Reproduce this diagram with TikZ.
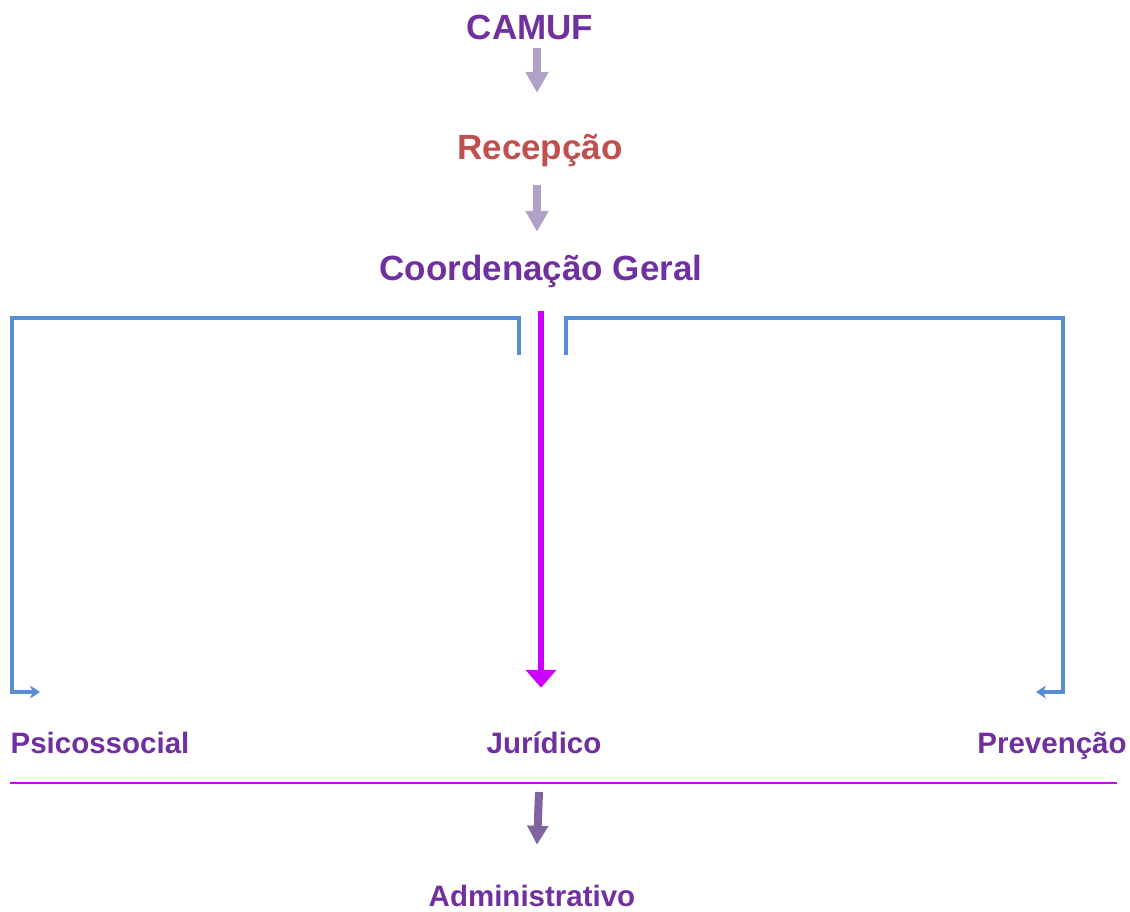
\documentclass[tikz,border=0pt]{standalone}
\usepackage{fontspec}
\setmainfont{Liberation Sans}
\usetikzlibrary{
  positioning,
  arrows.meta
}
\definecolor{camufpurple}{HTML}{7030A0}
\definecolor{recred}{HTML}{C0504D}
\definecolor{liftlilac}{HTML}{B2A1C7}
\definecolor{branchblue}{HTML}{558ED5}
\definecolor{mainmagenta}{HTML}{CC00FF}
\definecolor{adminviolet}{HTML}{8064A2}
\tikzset{
  x=1pt, y=-1pt,
  unit/.style={font=\bfseries\fontsize{35}{40}\selectfont, text=camufpurple, inner sep=0pt, anchor=base, text height=26pt, text depth=8pt},
  sector/.style={font=\bfseries\fontsize{29.5}{34}\selectfont, text=camufpurple, inner sep=0pt, anchor=base, text height=22pt, text depth=7pt},
  liftarrow/.style={line width=8.5pt, draw=liftlilac, -{Triangle[width=22pt,length=21pt]}},
  branch/.style={line width=3.5pt, draw=branchblue, -{Stealth[width=13pt,length=10pt,inset=3pt]}},
  trunk/.style={line width=6pt, draw=mainmagenta, -{Triangle[width=30pt,length=18pt]}}
}

\begin{document}
\begin{tikzpicture}
    \useasboundingbox (0,0) rectangle (1130,912);
    \node[unit] (camuf) at (530,40) {CAMUF};
    \node[unit, text=recred] (recepcao) at (540,160) {Recepção};
    \node[unit] (coord) at (541,280) {Coordenação Geral};
    \node[sector] (psico) at (100,753) {Psicossocial};
    \node[sector] (juri) at (544,753) {Jurídico};
    \node[sector] (prev) at (1052,753) {Prevenção};
    \node[sector] (admin) at (532,906) {Administrativo};
    % arrows between the top units
    \draw[liftarrow] ([xshift=7pt]camuf.south) -- ([xshift=7pt,yshift=41pt]recepcao.north -| camuf.south);
    \draw[liftarrow] ([xshift=-3pt,yshift=-17pt]recepcao.south) -- ([xshift=-4pt,yshift=22pt]coord.north);
    % branches to the sectors
    \coordinate (lstub) at (519,355);
    \coordinate (rstub) at (566,355);
    \coordinate (lend) at (40,692);
    \coordinate (rend) at (1036,692);
    \draw[branch] (lstub) -- (519,318) -- (12,318) |- (lend);
    \draw[branch] (rstub) -- (566,318) -- (1063,318) |- (rend);
    \draw[trunk] ([xshift=-3pt,yshift=-23pt]coord.south -| juri.north) -- ([xshift=-3pt,yshift=43pt]juri.north);
    % separator and administrative support
    \coordinate (sepl) at (10,783);
    \coordinate (sepr) at (1117,783);
    \draw[mainmagenta, line width=2pt] (sepl) -- (sepr);
    \draw[liftarrow, draw=adminviolet, line width=8pt, -{Triangle[width=20pt,length=19pt]}] (539,792) -- ([xshift=5pt,yshift=39pt]admin.north);
\end{tikzpicture}
\end{document}
